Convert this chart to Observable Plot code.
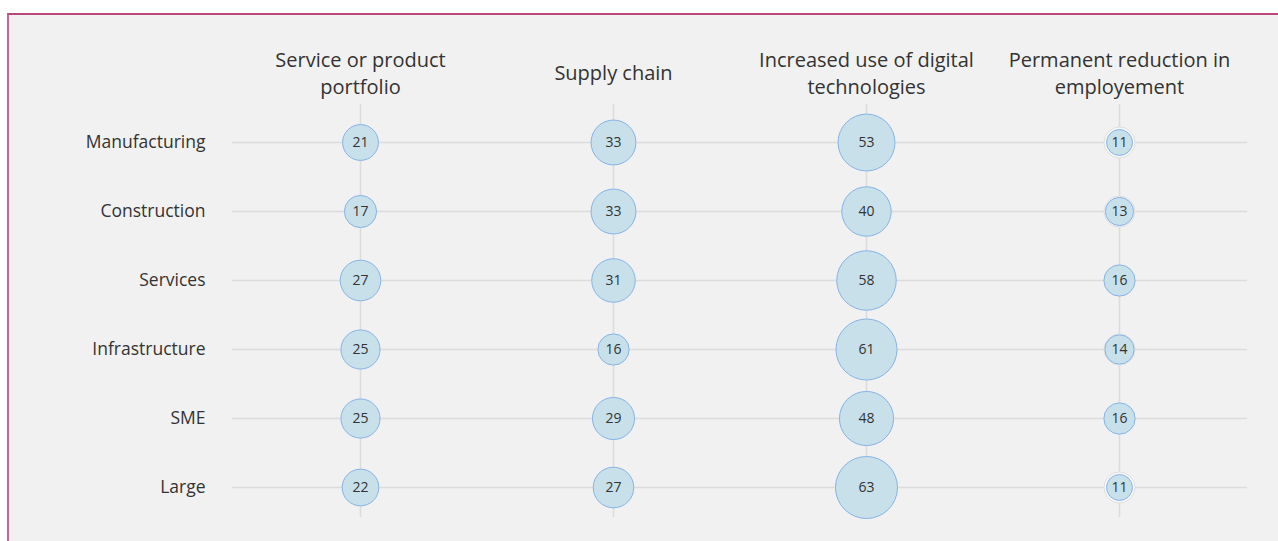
<!DOCTYPE html>
<html>
<head>
<meta charset="utf-8">
<script src="https://cdn.jsdelivr.net/npm/d3@7"></script>
<script src="https://cdn.jsdelivr.net/npm/@observablehq/plot@0.6"></script>
<style>
  html, body { margin: 0; padding: 0; background: #ffffff; overflow: hidden; }
  #frame { position: absolute; left: 7px; top: 13px; width: 1290px; height: 560px;
           background: #f1f1f1; border-left: 2px solid #c8649a; border-top: 2px solid #b9467c; box-sizing: border-box; }
  #chart { position: absolute; left: 0; top: 0; }
  #chart svg { background: transparent; }
</style>
</head>
<body>
<div id="frame"></div>
<div id="chart"></div>
<script>
const columns = ["Service or product portfolio", "Supply chain", "Increased use of digital technologies", "Permanent reduction in employement"];
const columnLabels = ["Service or product\nportfolio", "Supply chain", "Increased use of digital\ntechnologies", "Permanent reduction in\nemployement"];
const rows = ["Manufacturing", "Construction", "Services", "Infrastructure", "SME", "Large"];
const serviceOrProduct = [21, 17, 27, 25, 25, 22];
const supplyChain = [33, 33, 31, 16, 29, 27];
const digitalTech = [53, 40, 58, 61, 48, 63];
const employmentReduction = [11, 13, 16, 14, 16, 11];

const series = [serviceOrProduct, supplyChain, digitalTech, employmentReduction];
const data = [];
columns.forEach((c, ci) => rows.forEach((r, ri) => data.push({column: c, row: r, value: series[ci][ri]})));
const headers = columns.map((c, i) => ({column: c, label: columnLabels[i]}));

const font = "'Open Sans', 'Noto Sans', sans-serif";
const firstRow = rows[0], lastRow = rows[rows.length - 1];

const chart = Plot.plot({
  width: 1278,
  height: 541,
  marginLeft: 232,
  marginRight: 31,
  marginTop: 106,
  marginBottom: 18,
  style: {fontFamily: font, background: "transparent", color: "#333"},
  x: {type: "point", domain: columns, padding: 0.5, axis: null},
  y: {type: "point", domain: rows, padding: 0.5, axis: null},
  r: {domain: [0, 63], range: [0, 31]},
  marks: [
    Plot.ruleY(rows, {y: d => d, stroke: "#dcdcdc", strokeWidth: 1.5}),
    Plot.ruleX(columns, {x: d => d, y1: () => firstRow, y2: () => lastRow, insetTop: -38, insetBottom: -30, stroke: "#dcdcdc", strokeWidth: 1.5}),
    Plot.text(rows, {y: d => d, text: d => d, frameAnchor: "left", dx: -27, textAnchor: "end", fontSize: 17.5, fill: "#333"}),
    Plot.text(headers, {x: "column", text: "label", frameAnchor: "top", dy: -35, lineAnchor: "middle", lineHeight: 1.35, fontSize: 20, fill: "#333"}),
    Plot.dot(data.filter(d => d.value < 15), {x: "column", y: "row", r: 15.5, fill: "#f8f8f8", stroke: "#dedede", strokeWidth: 1}),
    Plot.dot(data, {x: "column", y: "row", r: "value", fill: "#c7e0ea", stroke: "#86b3e6", strokeWidth: 1}),
    Plot.text(data, {x: "column", y: "row", text: d => String(d.value), fontSize: 14, fill: "#333"})
  ]
});
document.getElementById("chart").appendChild(chart);
</script>
</body>
</html>
